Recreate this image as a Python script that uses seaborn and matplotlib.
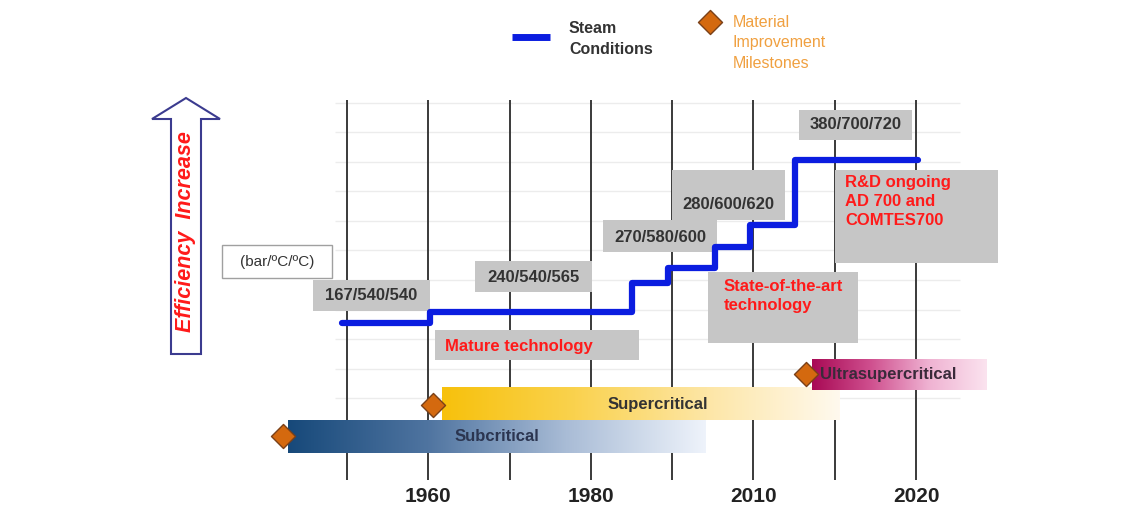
import numpy as np
import matplotlib
matplotlib.use("Agg")
import matplotlib.pyplot as plt
from matplotlib.patches import Rectangle, Polygon
from matplotlib.colors import LinearSegmentedColormap
import seaborn as sns

# ------ data ------ #
# x: position on the time axis (one unit = one grid line), y: efficiency level (one unit = one faint grid line)
tick_pos = [1, 3, 5, 7]
tick_labels = ["1960", "1980", "2010", "2020"]

steam_x = [-0.06, 1.02, 3.50, 3.95, 4.53, 4.96, 5.51, 7.02]
steam_y = [2.54, 2.92, 3.90, 4.41, 5.12, 5.86, 8.07, 8.07]

regimes = ["Subcritical", "Supercritical", "Ultrasupercritical"]
regime_start = [-0.73, 1.17, 5.72]
regime_end = [4.40, 6.06, 7.87]
regime_low = [-1.86, -0.75, 0.27]
regime_high = [-0.75, 0.34, 1.32]

milestone_x = [-0.79, 1.06, 5.65]
milestone_y = [-1.29, -0.24, 0.81]

steam_labels = ["167/540/540", "240/540/565", "270/580/600", "280/600/620", "380/700/720"]
notes = ["Mature technology", "State-of-the-art\ntechnology", "R&D ongoing\nAD 700 and\nCOMTES700"]

# ------ pixel helpers for layout ------ #
X0, XS = 347, 81.3
Y0, YS = 398, 29.5


def px(x):
    return (x - X0) / XS


def py(y):
    return (Y0 - y) / YS


sns.set_style("white")
plt.rcParams["font.family"] = ["Liberation Sans", "DejaVu Sans"]

fig = plt.figure(figsize=(11.38, 5.13), dpi=100)
ax = fig.add_axes([0, 0, 1, 1])
ax.set_axis_off()

# grid
ax.hlines(range(11), px(335), px(960), color="#ececec", lw=1, zorder=0.5)
ax.vlines(range(8), py(480), py(100), color="#3a3a3a", lw=1.4, zorder=1)

# gradient regime bars
bar_colors = [
    ["#17497a", "#4f74a0", "#a9bcd6", "#eef3fb"],
    ["#f7c10c", "#fad24e", "#fde6a6", "#fff9ee"],
    ["#a80a55", "#cf4f8e", "#efb2d2", "#fbe3ef"],
]
text_colors = ["#2b3550", "#333333", "#3a2a3a"]
grad = np.linspace(0, 1, 256)[None, :]
for i, name in enumerate(regimes):
    cm = LinearSegmentedColormap.from_list(name, bar_colors[i])
    ax.imshow(grad, extent=[regime_start[i], regime_end[i], regime_low[i], regime_high[i]],
              cmap=cm, aspect="auto", origin="lower", zorder=2)
text_x = [px(497), px(658), px(820)]
text_ha = ["center", "center", "left"]
for i, name in enumerate(regimes):
    ax.text(text_x[i], (regime_low[i] + regime_high[i]) / 2, name, ha=text_ha[i], va="center",
            fontsize=12, fontweight="bold", color=text_colors[i], zorder=7)

# grey label boxes
label_boxes = [(313, 280, 430, 311), (475, 261, 592, 292), (603, 220, 717, 252),
               (672, 170, 785, 220), (799, 110, 912, 140)]
label_text_y = [296, 277, 237, 205, 125]
for (x0, y0, x1, y1), lab, ty in zip(label_boxes, steam_labels, label_text_y):
    ax.add_patch(Rectangle((px(x0), py(y1)), px(x1) - px(x0), py(y0) - py(y1),
                           facecolor="#c6c6c6", edgecolor="none", zorder=3))
    ax.text(px((x0 + x1) / 2), py(ty), lab, ha="center", va="center",
            fontsize=12, fontweight="bold", color="#333333", zorder=7)

note_boxes = [(435, 330, 639, 360), (708, 272, 858, 343), (835, 170, 998, 263)]
note_text_pos = [(445, 347), (724, 279), (845, 175)]
note_va = ["center", "top", "top"]
for (x0, y0, x1, y1), lab, (tx, ty), va in zip(note_boxes, notes, note_text_pos, note_va):
    ax.add_patch(Rectangle((px(x0), py(y1)), px(x1) - px(x0), py(y0) - py(y1),
                           facecolor="#c6c6c6", edgecolor="none", zorder=3))
    ax.text(px(tx), py(ty), lab, ha="left", va=va, fontsize=12, fontweight="bold",
            color="#ff1a1a", zorder=7, linespacing=1.35)

# unit box
ax.add_patch(Rectangle((px(222), py(278)), px(332) - px(222), py(245) - py(278),
                       facecolor="white", edgecolor="#a0a0a0", lw=1, zorder=3))
ax.text(px(277), py(262), "(bar/ºC/ºC)", ha="center", va="center", fontsize=11,
        color="#333333", zorder=7)

# steam conditions line
sns.lineplot(x=steam_x, y=steam_y, drawstyle="steps-post", color="#0b1de0", lw=4.5,
             solid_capstyle="round", ax=ax, zorder=4, estimator=None)

# milestones
sns.scatterplot(x=milestone_x, y=milestone_y, marker="D", s=150, color="#d4690f",
                edgecolor="#7a4018", linewidth=1, ax=ax, zorder=6)

# efficiency arrow
arrow_pts = [(171, 354), (171, 119), (152, 119), (186, 98), (220, 119), (201, 119), (201, 354)]
ax.add_patch(Polygon([(px(a), py(b)) for a, b in arrow_pts], closed=True, facecolor="white",
                     edgecolor="#3b3b8f", lw=1.5, zorder=3))
ax.text(px(186), py(232), "Efficiency  Increase", rotation=90, ha="center", va="center",
        fontsize=15.5, fontweight="bold", style="italic", color="#ff1a1a", zorder=7)

# legend
ax.plot([px(512), px(550)], [py(37), py(37)], color="#0b1de0", lw=5, solid_capstyle="butt", zorder=6)
ax.text(px(569), py(39), "Steam\nConditions", ha="left", va="center", fontsize=11.5,
        fontweight="bold", color="#333333", linespacing=1.5, zorder=7)
ax.scatter([px(710)], [py(22)], marker="D", s=150, color="#d4690f", edgecolor="#7a4018",
           linewidth=1, zorder=6)
ax.text(px(733), py(43), "Material\nImprovement\nMilestones", ha="left", va="center",
        fontsize=11.5, color="#f0a040", linespacing=1.45, zorder=7)

# x tick labels
for pos, lab in zip(tick_pos, tick_labels):
    ax.text(pos, py(497), lab, ha="center", va="center", fontsize=15, fontweight="bold",
            color="#222222", zorder=7)

ax.set_xlim(px(0), px(1138))
ax.set_ylim(py(513), py(0))

fig.savefig("out.png", dpi=100)
